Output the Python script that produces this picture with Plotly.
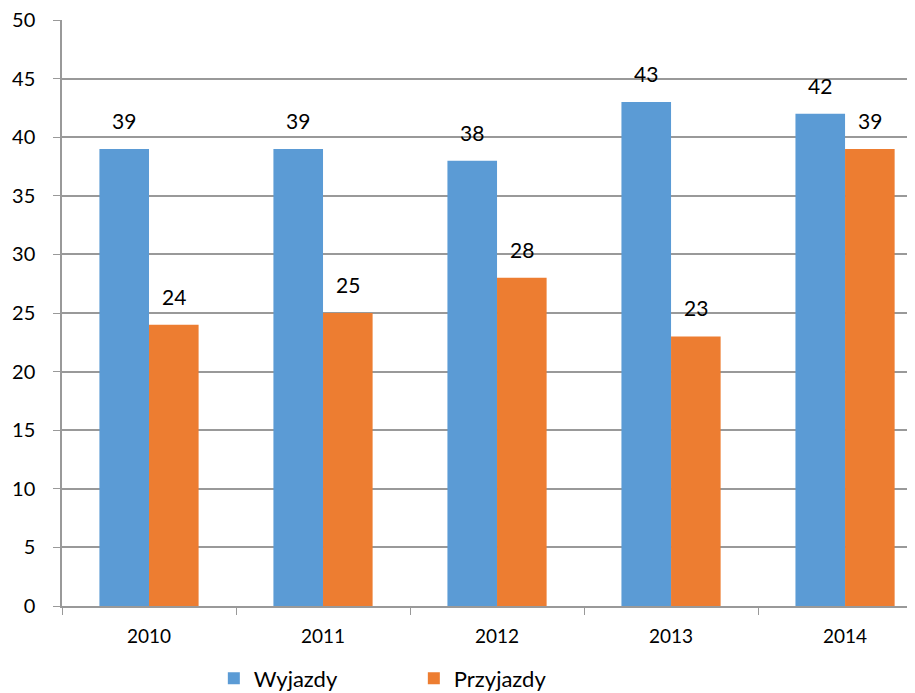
import plotly.graph_objects as go

years = ["2010", "2011", "2012", "2013", "2014"]
wyjazdy = [39, 39, 38, 43, 42]
przyjazdy = [24, 25, 28, 23, 39]
y_ticks = [0, 5, 10, 15, 20, 25, 30, 35, 40, 45, 50]

BLUE = "#5b9bd5"
ORANGE = "#ed7d31"
FONT = "Lato"

fig = go.Figure()
fig.add_bar(name="Wyjazdy", x=years, y=wyjazdy, marker_color=BLUE, marker_line_width=0)
fig.add_bar(name="Przyjazdy", x=years, y=przyjazdy, marker_color=ORANGE, marker_line_width=0)

bw = 0.285
for i, (a, b) in enumerate(zip(wyjazdy, przyjazdy)):
    for v, off in ((a, -bw / 2), (b, bw / 2)):
        fig.add_annotation(x=i + off, y=v, text=str(v), showarrow=False,
                           yanchor="bottom", yshift=14,
                           font=dict(family=FONT, size=21, color="#000"))

# page body has an 8px margin, so the figure is shifted by 8px
fig.update_layout(
    width=907, height=685,
    margin=dict(l=54, r=0, t=12, b=87, autoexpand=False),
    plot_bgcolor="white", paper_bgcolor="white",
    barmode="group", bargap=0.43, bargroupgap=0,
    font=dict(family=FONT, size=19, color="#000"),
    legend=dict(orientation="h", x=0.178, y=-0.088, xanchor="left", yanchor="top",
                font=dict(family=FONT, size=22), traceorder="normal",
                entrywidth=155),
    showlegend=True,
)
fig.update_xaxes(type="category", range=[-0.5, 4.402], showline=True, linecolor="#999",
                 linewidth=1.5, ticks="outside", tickson="boundaries", ticklen=7,
                 tickcolor="#999", showgrid=False, tickfont=dict(size=19),
                 automargin=False, ticklabelstandoff=12)
fig.update_yaxes(range=[0, 50], tickmode="array", tickvals=y_ticks,
                 showline=True, linecolor="#999", linewidth=1.5,
                 ticks="outside", ticklen=7, tickcolor="#999", showgrid=True,
                 gridcolor="#999", gridwidth=1.5, zeroline=False,
                 tickfont=dict(size=20), ticklabelstandoff=14, automargin=False,
                 ticklabeloverflow="allow")

fig.write_html("out.html")
